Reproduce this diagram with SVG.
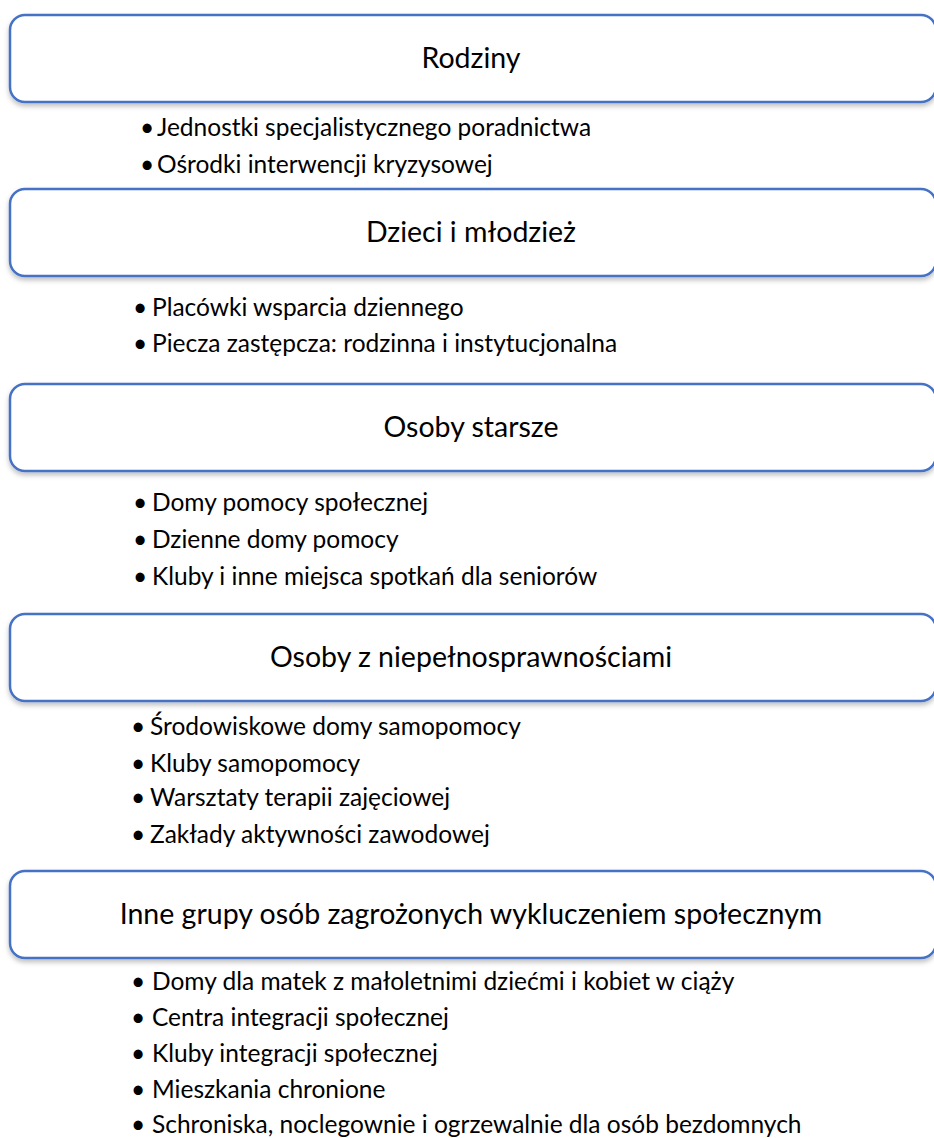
<svg xmlns="http://www.w3.org/2000/svg" width="934" height="1138" viewBox="0 0 934 1138">
  <defs>
    <filter id="sh" x="-5%" y="-20%" width="110%" height="150%">
      <feDropShadow dx="0" dy="3" stdDeviation="2.5" flood-color="#000" flood-opacity="0.25"/>
    </filter>
    <style>
      .box{fill:#fff;stroke:#4472C4;stroke-width:2.5;filter:url(#sh)}
      .hd{font-family:Lato,"Liberation Sans",sans-serif;font-size:28.5px;fill:#000;text-anchor:middle}
      .bl{font-family:Lato,"Liberation Sans",sans-serif;font-size:24.5px;fill:#000}
    </style>
  </defs>
  <rect width="934" height="1138" fill="#fff"/>
  <g id="node-rodziny">
    <rect class="box" x="10" y="15" width="926" height="87" rx="15"/>
    <text class="hd" x="471" y="68">Rodziny</text>
    <text class="bl" x="140" y="136">•<tspan x="157">Jednostki specjalistycznego poradnictwa</tspan></text>
    <text class="bl" x="140" y="173">•<tspan x="157">Ośrodki interwencji kryzysowej</tspan></text>
  </g>
  <g id="node-dzieci">
    <rect class="box" x="10" y="189" width="926" height="87" rx="15"/>
    <text class="hd" x="471" y="242">Dzieci i młodzież</text>
    <text class="bl" x="133" y="316">•<tspan x="152">Placówki wsparcia dziennego</tspan></text>
    <text class="bl" x="133" y="352">•<tspan x="152">Piecza zastępcza: rodzinna i instytucjonalna</tspan></text>
  </g>
  <g id="node-starsze">
    <rect class="box" x="10" y="384" width="926" height="87" rx="15"/>
    <text class="hd" x="471" y="437">Osoby starsze</text>
    <text class="bl" x="133" y="511">•<tspan x="152">Domy pomocy społecznej</tspan></text>
    <text class="bl" x="133" y="548">•<tspan x="152">Dzienne domy pomocy</tspan></text>
    <text class="bl" x="133" y="585">•<tspan x="152">Kluby i inne miejsca spotkań dla seniorów</tspan></text>
  </g>
  <g id="node-niepelnosprawni">
    <rect class="box" x="10" y="614" width="926" height="87" rx="15"/>
    <text class="hd" x="471" y="667">Osoby z niepełnosprawnościami</text>
    <text class="bl" x="131" y="735">•<tspan x="150">Środowiskowe domy samopomocy</tspan></text>
    <text class="bl" x="131" y="772">•<tspan x="150">Kluby samopomocy</tspan></text>
    <text class="bl" x="131" y="806">•<tspan x="150">Warsztaty terapii zajęciowej</tspan></text>
    <text class="bl" x="131" y="843">•<tspan x="150">Zakłady aktywności zawodowej</tspan></text>
  </g>
  <g id="node-inne">
    <rect class="box" x="10" y="871" width="926" height="87" rx="15"/>
    <text class="hd" x="471" y="924">Inne grupy osób zagrożonych wykluczeniem społecznym</text>
    <text class="bl" x="131" y="990">•<tspan x="152">Domy dla matek z małoletnimi dziećmi i kobiet w ciąży</tspan></text>
    <text class="bl" x="131" y="1026">•<tspan x="152">Centra integracji społecznej</tspan></text>
    <text class="bl" x="131" y="1062">•<tspan x="152">Kluby integracji społecznej</tspan></text>
    <text class="bl" x="131" y="1098">•<tspan x="152">Mieszkania chronione</tspan></text>
    <text class="bl" x="131" y="1133">•<tspan x="152">Schroniska, noclegownie i ogrzewalnie dla osób bezdomnych</tspan></text>
  </g>
  <g id="connectors"/>
</svg>
